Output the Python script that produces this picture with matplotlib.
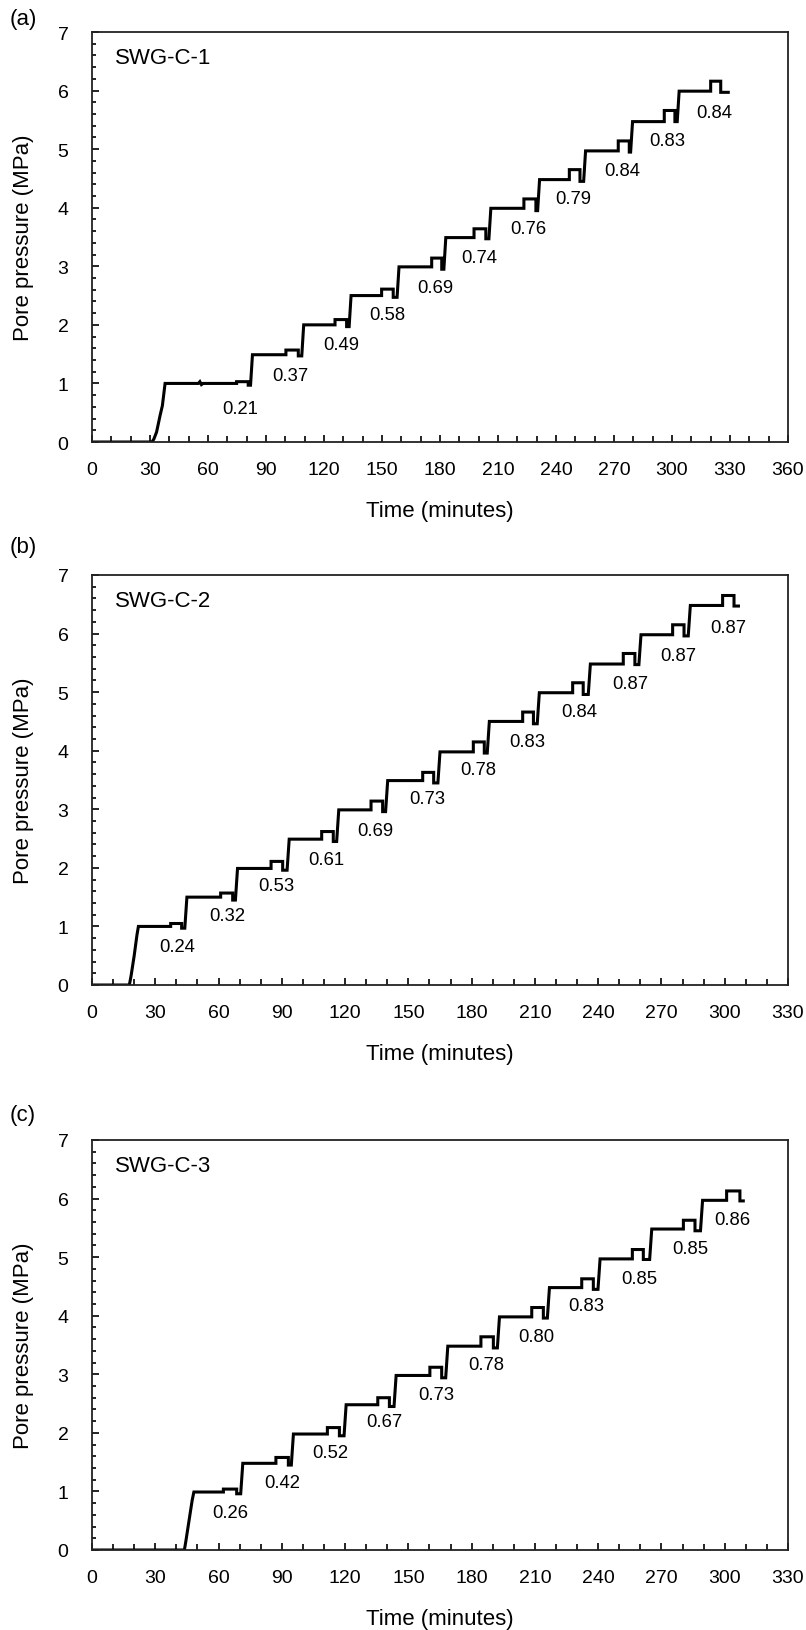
import matplotlib
matplotlib.use("Agg")
import matplotlib.pyplot as plt
from matplotlib.ticker import MultipleLocator

plt.rcParams['font.family'] = ['Liberation Sans', 'DejaVu Sans']

# ---------------- data ----------------
# Panel (a) SWG-C-1
t_a = [0, 31, 32, 33.4, 35.2, 36.4, 37.8,
       55, 55.8, 56.6, 57.5,
       74.8, 74.8, 80.8, 80.8, 82.0, 83.0,
       100.3, 100.3, 106.7, 106.7, 108.5, 109.5,
       125.7, 125.7, 131.7, 131.7, 133.0, 134.0,
       149.8, 149.8, 155.8, 155.8, 157.8, 158.8,
       175.7, 175.7, 180.9, 180.9, 182.0, 183.0,
       197.6, 197.6, 203.7, 203.7, 205.3, 206.3,
       223.4, 223.4, 229.6, 229.6, 230.5, 231.5,
       246.9, 246.9, 252.4, 252.4, 254.3, 255.3,
       272.2, 272.2, 277.9, 277.9, 278.6, 279.6,
       296.0, 296.0, 301.5, 301.5, 302.7, 303.7,
       320.0, 320.0, 325.2, 325.2, 329.1]
p_a = [0, 0, 0.05, 0.17, 0.45, 0.62, 1.0,
       1.0, 1.03, 0.98, 1.0,
       1.0, 1.03, 1.03, 0.97, 0.97, 1.49,
       1.49, 1.57, 1.57, 1.47, 1.47, 2.0,
       2.0, 2.09, 2.09, 1.97, 1.97, 2.5,
       2.5, 2.61, 2.61, 2.47, 2.47, 2.99,
       2.99, 3.14, 3.14, 2.95, 2.95, 3.49,
       3.49, 3.64, 3.64, 3.47, 3.47, 3.99,
       3.99, 4.15, 4.15, 3.95, 3.95, 4.48,
       4.48, 4.65, 4.65, 4.45, 4.45, 4.97,
       4.97, 5.14, 5.14, 4.95, 4.95, 5.47,
       5.47, 5.66, 5.66, 5.47, 5.47, 5.99,
       5.99, 6.16, 6.16, 5.97, 5.97]
lab_a = ["0.21", "0.37", "0.49", "0.58", "0.69", "0.74",
         "0.76", "0.79", "0.84", "0.83", "0.84"]
lab_ta = [76.6, 102.8, 128.8, 152.7, 177.6, 200.2, 225.7, 249.0, 274.3, 297.8, 321.9]
lab_pa = [0.58, 1.13, 1.66, 2.17, 2.63, 3.15, 3.64, 4.16, 4.63, 5.14, 5.63]

# Panel (b) SWG-C-2
t_b = [0, 17.7, 18.5, 20.0, 21.3, 22.0,
       37.3, 37.3, 42.5, 42.5, 44.0, 45.0,
       61.0, 61.0, 66.7, 66.7, 68.0, 69.0,
       84.9, 84.9, 90.4, 90.4, 92.5, 93.5,
       108.9, 108.9, 114.4, 114.4, 116.0, 117.0,
       132.3, 132.3, 137.8, 137.8, 139.2, 140.2,
       156.8, 156.8, 162.0, 162.0, 164.0, 165.0,
       180.8, 180.8, 186.0, 186.0, 187.4, 188.4,
       204.2, 204.2, 209.3, 209.3, 211.1, 212.1,
       227.9, 227.9, 232.9, 232.9, 235.3, 236.3,
       251.9, 251.9, 257.4, 257.4, 259.3, 260.3,
       275.3, 275.3, 280.7, 280.7, 282.7, 283.7,
       299.0, 299.0, 304.4, 304.4, 306.5]
p_b = [0, 0, 0.15, 0.5, 0.85, 1.0,
       1.0, 1.05, 1.05, 0.97, 0.97, 1.5,
       1.5, 1.57, 1.57, 1.45, 1.45, 1.99,
       1.99, 2.11, 2.11, 1.96, 1.96, 2.49,
       2.49, 2.62, 2.62, 2.45, 2.45, 2.99,
       2.99, 3.14, 3.14, 2.96, 2.96, 3.49,
       3.49, 3.63, 3.63, 3.45, 3.45, 3.98,
       3.98, 4.15, 4.15, 3.96, 3.96, 4.5,
       4.5, 4.66, 4.66, 4.46, 4.46, 4.99,
       4.99, 5.16, 5.16, 4.96, 4.96, 5.48,
       5.48, 5.66, 5.66, 5.47, 5.47, 5.98,
       5.98, 6.15, 6.15, 5.96, 5.96, 6.48,
       6.48, 6.65, 6.65, 6.47, 6.47]
lab_b = ["0.24", "0.32", "0.53", "0.61", "0.69", "0.73",
         "0.78", "0.83", "0.84", "0.87", "0.87", "0.87"]
lab_tb = [40.6, 63.9, 87.6, 111.3, 134.5, 159.2, 183.2, 206.4, 231.1, 255.4, 278.0, 301.7]
lab_pb = [0.66, 1.18, 1.70, 2.15, 2.63, 3.19, 3.68, 4.16, 4.67, 5.15, 5.62, 6.11]

# Panel (c) SWG-C-3
t_c = [0, 43.8, 44.5, 46.0, 47.5, 48.3,
       62.3, 62.3, 68.6, 68.6, 70.5, 71.5,
       87.2, 87.2, 93.1, 93.1, 94.5, 95.5,
       111.6, 111.6, 117.3, 117.3, 119.5, 120.5,
       135.5, 135.5, 141.0, 141.0, 143.2, 144.2,
       160.2, 160.2, 165.8, 165.8, 167.7, 168.7,
       184.4, 184.4, 190.3, 190.3, 192.2, 193.2,
       208.5, 208.5, 214.0, 214.0, 215.9, 216.9,
       232.2, 232.2, 237.7, 237.7, 239.9, 240.9,
       256.2, 256.2, 261.4, 261.4, 264.4, 265.4,
       280.4, 280.4, 285.9, 285.9, 288.5, 289.5,
       300.9, 300.9, 307.2, 307.2, 308.8]
p_c = [0, 0, 0.15, 0.5, 0.85, 0.99,
       0.99, 1.04, 1.04, 0.96, 0.96, 1.48,
       1.48, 1.58, 1.58, 1.45, 1.45, 1.98,
       1.98, 2.09, 2.09, 1.95, 1.95, 2.48,
       2.48, 2.6, 2.6, 2.45, 2.45, 2.98,
       2.98, 3.12, 3.12, 2.94, 2.94, 3.48,
       3.48, 3.64, 3.64, 3.45, 3.45, 3.98,
       3.98, 4.14, 4.14, 3.96, 3.96, 4.48,
       4.48, 4.63, 4.63, 4.45, 4.45, 4.97,
       4.97, 5.13, 5.13, 4.96, 4.96, 5.48,
       5.48, 5.63, 5.63, 5.45, 5.45, 5.97,
       5.97, 6.13, 6.13, 5.96, 5.96]
lab_c = ["0.26", "0.42", "0.52", "0.67", "0.73", "0.78",
         "0.80", "0.83", "0.85", "0.85", "0.86"]
lab_tc = [65.4, 90.2, 113.2, 138.6, 163.4, 186.8, 210.8, 234.6, 259.4, 283.5, 303.8]
lab_pc = [0.64, 1.15, 1.66, 2.19, 2.66, 3.17, 3.65, 4.17, 4.64, 5.15, 5.65]

panels = [
    ("(a)", "SWG-C-1", t_a, p_a, lab_a, lab_ta, lab_pa, 360),
    ("(b)", "SWG-C-2", t_b, p_b, lab_b, lab_tb, lab_pb, 330),
    ("(c)", "SWG-C-3", t_c, p_c, lab_c, lab_tc, lab_pc, 330),
]

# ---------------- layout ----------------
W, H = 806, 1631
fig = plt.figure(figsize=(W / 100, H / 100), dpi=100)
axes_px = [(92, 33, 788, 443), (92, 576, 788, 986), (92, 1141, 788, 1551)]
panel_label_y = [20, 548, 1116]

for (plab, name, t, p, labs, lt, lp, xmax), (x0, y0, x1, y1), ply in zip(panels, axes_px, panel_label_y):
    ax = fig.add_axes([x0 / W, 1 - y1 / H, (x1 - x0) / W, (y1 - y0) / H])
    ax.plot(t, p, color='black', lw=2.2, solid_joinstyle='miter')
    ax.set_xlim(0, xmax)
    ax.set_ylim(0, 7)
    ax.xaxis.set_major_locator(MultipleLocator(30))
    ax.xaxis.set_minor_locator(MultipleLocator(10))
    ax.yaxis.set_major_locator(MultipleLocator(1))
    ax.yaxis.set_minor_locator(MultipleLocator(0.2))
    ax.tick_params(axis='both', which='both', direction='in', colors='black',
                   labelsize=14, width=1.2)
    ax.tick_params(axis='x', which='major', length=5, pad=14)
    ax.tick_params(axis='x', which='minor', length=4)
    ax.tick_params(axis='y', which='major', length=5, pad=17)
    ax.tick_params(axis='y', which='minor', length=3)
    for s in ax.spines.values():
        s.set_linewidth(1.3)
        s.set_color('#222222')
    ax.set_xlabel("Time (minutes)", fontsize=16)
    ax.set_ylabel("Pore pressure (MPa)", fontsize=16)
    ax.xaxis.set_label_coords(0.5, -0.141)
    ax.yaxis.set_label_coords(-0.083, 0.5)
    ax.text(0.033, 0.938, name, transform=ax.transAxes, fontsize=16,
            ha='left', va='center')
    for s_, tx, py in zip(labs, lt, lp):
        ax.text(tx, py, s_, fontsize=13.3, ha='center', va='center')
    fig.text(10 / W, 1 - ply / H, plab, fontsize=16, ha='left', va='center')

fig.savefig("out.png", dpi=100)
